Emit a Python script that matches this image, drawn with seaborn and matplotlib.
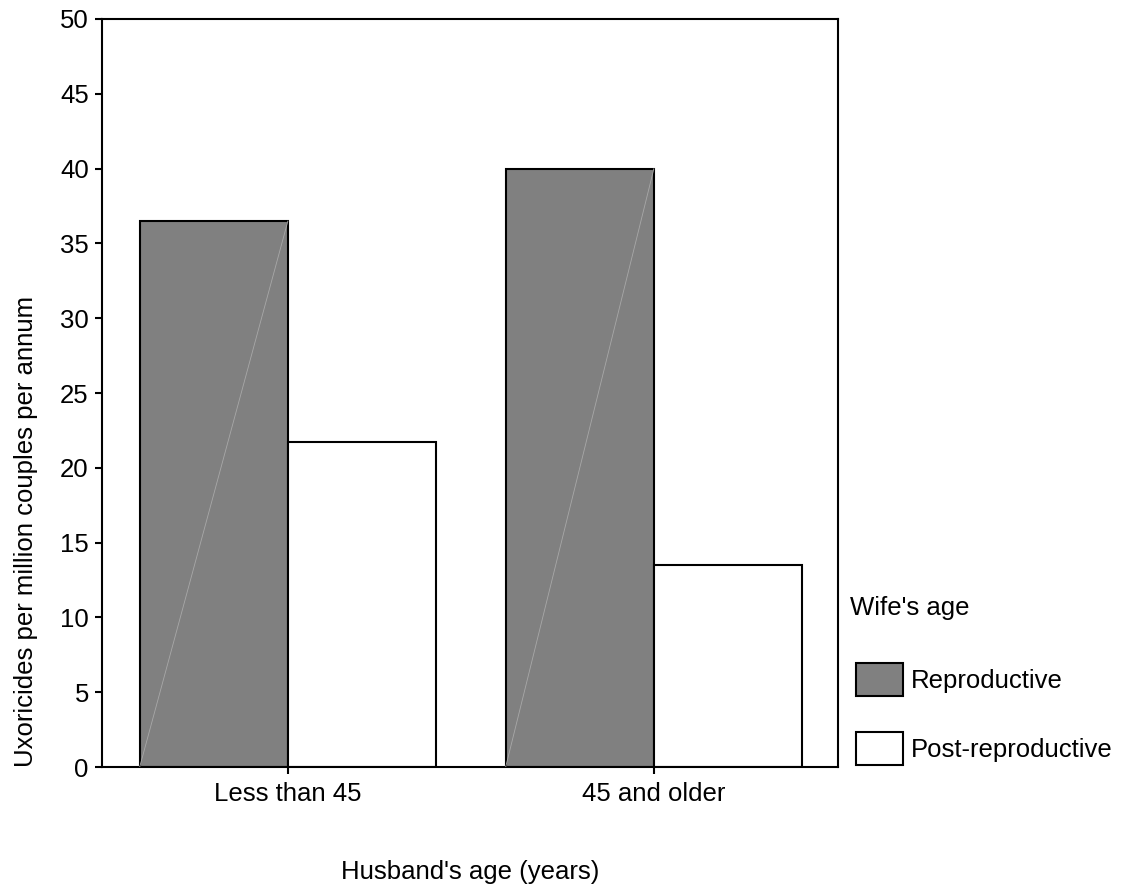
import matplotlib
matplotlib.use("Agg")
import matplotlib.pyplot as plt
import seaborn as sns
import pandas as pd

husband_age = ["Less than 45", "45 and older"]
wife_age = ["Reproductive", "Post-reproductive"]
reproductive = [36.5, 40.0]
post_reproductive = [21.7, 13.5]
yticks = [0, 5, 10, 15, 20, 25, 30, 35, 40, 45, 50]

df = pd.DataFrame({
    "husband": husband_age * 2,
    "wife": [wife_age[0]] * 2 + [wife_age[1]] * 2,
    "rate": reproductive + post_reproductive,
})

sns.set_style("white")
plt.rcParams["font.family"] = ["Liberation Sans", "DejaVu Sans"]
plt.rcParams["text.color"] = "black"
plt.rcParams["axes.labelcolor"] = "black"
plt.rcParams["xtick.color"] = "black"
plt.rcParams["ytick.color"] = "black"

FS = 18.5

fig = plt.figure(figsize=(11.45, 8.88), dpi=100)
ax = fig.add_axes([102 / 1145, 1 - 767 / 888, (838 - 102) / 1145, (767 - 19) / 888])

palette = {wife_age[0]: "#808080", wife_age[1]: "#ffffff"}
sns.barplot(data=df, x="husband", y="rate", hue="wife", order=husband_age,
            hue_order=wife_age, palette=palette, width=0.81, edgecolor="black",
            linewidth=1.5, saturation=1, ax=ax, legend=True)

# faint diagonal artifact in grey bars
for p in ax.patches:
    fc = p.get_facecolor()
    if p.get_height() > 0 and fc[0] < 0.9 and p.get_width() > 0:
        x0, w, h = p.get_x(), p.get_width(), p.get_height()
        ax.plot([x0, x0 + w], [0, h], color="#a8a8a8", lw=0.6, zorder=3)

ax.set_xlim(-0.508, 1.503)
ax.set_ylim(0, 50)
ax.set_yticks(yticks)
ax.tick_params(axis="y", left=True, length=5, width=1.5,
               labelsize=FS, pad=4.5, color="black", labelcolor="black")
ax.tick_params(axis="x", bottom=True, length=5, width=1.5,
               labelsize=FS, pad=5.5, color="black", labelcolor="black")
for s in ax.spines.values():
    s.set_visible(True)
    s.set_color("black")
    s.set_linewidth(1.5)

ax.set_xlabel("Husband's age (years)", fontsize=FS, labelpad=39)
ax.set_ylabel("Uxoricides per million couples per annum", fontsize=FS,
              labelpad=16, loc="bottom")

handles, labels = ax.get_legend_handles_labels()
ax.get_legend().remove()
leg = fig.legend(handles, labels, title="Wife's age", loc="upper left",
                 bbox_to_anchor=(850 / 1145, 1 - 596 / 888), frameon=False,
                 fontsize=FS, title_fontsize=FS, handlelength=1.83,
                 handleheight=1.6, handletextpad=0.3, labelspacing=1.4,
                 borderpad=0, borderaxespad=0)
leg._legend_box.align = "left"
leg._legend_box.sep = 27
leg._legend_handle_box.pad = 4.3
for h in leg.legend_handles:
    h.set_edgecolor("black")
    h.set_linewidth(1.5)

fig.savefig("out.png", dpi=100)
